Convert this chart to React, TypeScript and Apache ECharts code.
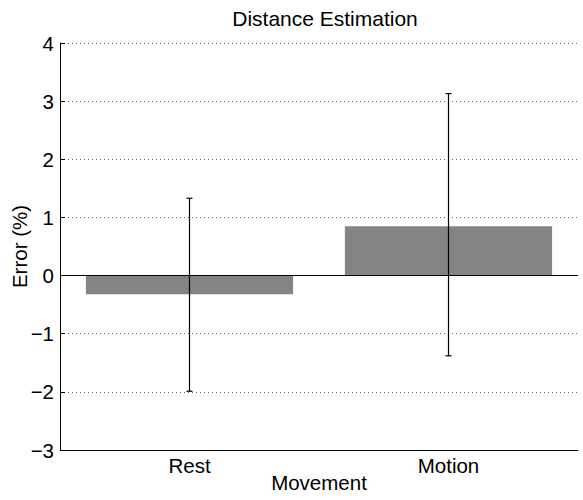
import React, { useEffect, useRef } from "react";
import * as echarts from "echarts";

// Mean error per movement condition, with the ends of each error bar.
const categories = ["Rest", "Motion"];
const meanError = [-0.32, 0.85];
const errLow = [-1.99, -1.38];
const errHigh = [1.33, 3.13];

const yTicks = { min: -3, max: 4, interval: 1 };

const FONT = "'Liberation Sans', Arial, Helvetica, sans-serif";
const FS = 20.5;

export default function App() {
  const ref = useRef<HTMLDivElement>(null);

  useEffect(() => {
    if (!ref.current) return;
    const chart = echarts.init(ref.current, null, { renderer: "svg" });

    const errData = categories.map((_, i) => [i, errLow[i], errHigh[i]]);

    chart.setOption({
      animation: false,
      backgroundColor: "#ffffff",
      textStyle: { fontFamily: FONT, color: "#000" },
      title: {
        text: "Distance Estimation",
        left: 320,
        top: 3,
        textAlign: "center",
        textStyle: { fontFamily: FONT, fontSize: 21, fontWeight: "normal", color: "#000" },
      },
      grid: { left: 60, right: 5, top: 43, bottom: 50, outerBoundsMode: "none" },
      xAxis: {
        type: "category",
        data: categories,
        name: "Movement",
        nameLocation: "middle",
        nameGap: 22,
        nameMoveOverlap: false,
        nameTextStyle: { fontFamily: FONT, fontSize: FS, color: "#000" },
        axisLine: { onZero: false, lineStyle: { color: "#000", width: 1 } },
        axisTick: { inside: true, alignWithLabel: true, length: 5, lineStyle: { color: "#000" } },
        axisLabel: { fontFamily: FONT, fontSize: FS, color: "#000", margin: 5 },
        splitLine: { show: false },
      },
      yAxis: {
        type: "value",
        min: yTicks.min,
        max: yTicks.max,
        interval: yTicks.interval,
        name: "Error (%)",
        nameLocation: "middle",
        nameGap: 30,
        nameMoveOverlap: false,
        nameTextStyle: { fontFamily: FONT, fontSize: FS, color: "#000" },
        axisLine: { show: true, lineStyle: { color: "#000", width: 1 } },
        axisTick: { show: true, inside: true, length: 5, lineStyle: { color: "#000" } },
        axisLabel: {
          fontFamily: FONT,
          fontSize: FS,
          color: "#000",
          margin: 6,
          formatter: (v: number) => String(v).replace("-", "\u2212"),
        },
        splitLine: {
          show: true,
          lineStyle: { color: "#666", width: 1, type: [1, 3] },
        },
      },
      series: [
        {
          type: "bar",
          data: meanError,
          barWidth: "80%",
          itemStyle: { color: "#848484" },
          markLine: {
            silent: true,
            symbol: "none",
            label: { show: false },
            lineStyle: { color: "#000", width: 1, type: "solid" },
            data: [{ yAxis: 0 }],
          },
          z: 2,
        },
        {
          type: "custom",
          data: errData,
          encode: { x: 0, y: [1, 2] },
          z: 5,
          renderItem: (params: any, api: any) => {
            const x = api.value(0);
            const lo = api.coord([x, api.value(1)]);
            const hi = api.coord([x, api.value(2)]);
            const cap = 3;
            const style = { stroke: "#000", lineWidth: 1.2 };
            return {
              type: "group",
              children: [
                { type: "line", shape: { x1: hi[0], y1: hi[1], x2: lo[0], y2: lo[1] }, style },
                { type: "line", shape: { x1: hi[0] - cap, y1: hi[1], x2: hi[0] + cap, y2: hi[1] }, style },
                { type: "line", shape: { x1: lo[0] - cap, y1: lo[1], x2: lo[0] + cap, y2: lo[1] }, style },
              ],
            };
          },
        },
      ],
    });

    return () => chart.dispose();
  }, []);

  return (
    <div
      ref={ref}
      style={{ position: "absolute", left: 0, top: 0, width: 583, height: 500 }}
    />
  );
}
